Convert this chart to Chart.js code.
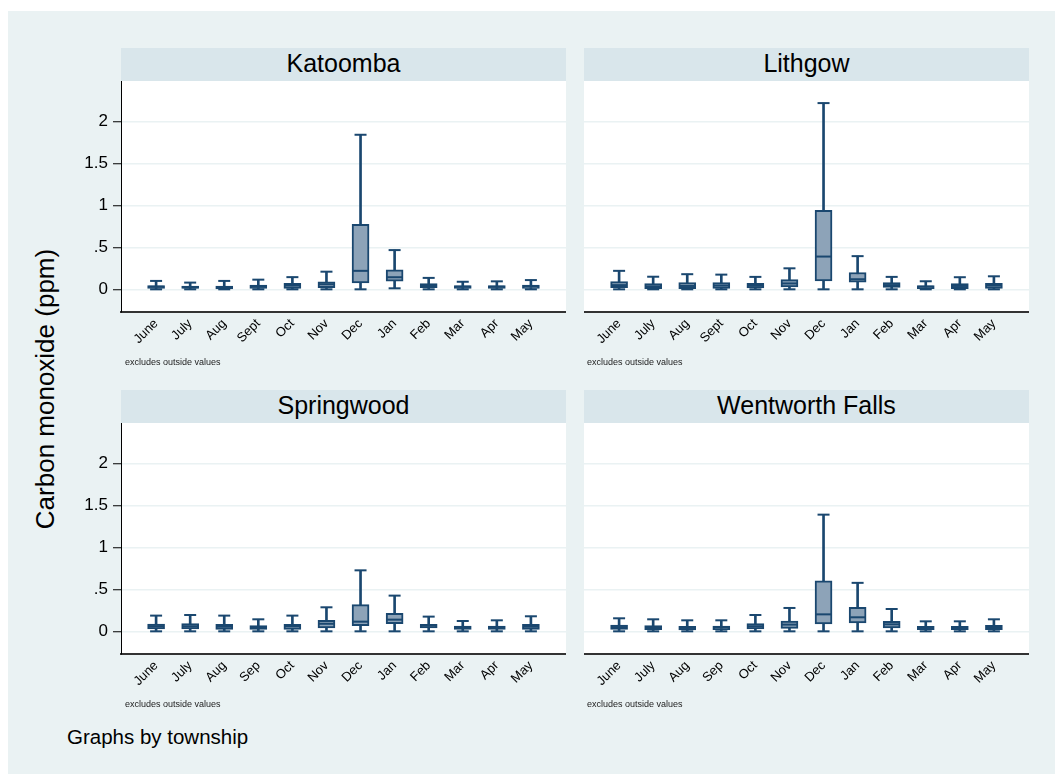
<!DOCTYPE html>
<html>
<head>
<meta charset="utf-8">
<script src="https://cdn.jsdelivr.net/npm/chart.js@4/dist/chart.umd.min.js"></script>
<style>
  html, body { margin:0; padding:0; background:#ffffff; }
  body { width:1055px; height:774px; position:relative; overflow:hidden; font-family:"Liberation Sans", Arial, sans-serif; }
  #bg { position:absolute; left:8px; top:11px; right:0; bottom:0; background:#EAF2F3; }
  .hdr { position:absolute; width:445px; height:33px; background:#D9E6EB; color:#000; font-size:25px; line-height:31px; text-align:center; }
  .wrap { position:absolute; }
  .note { position:absolute; font-size:9px; line-height:10px; color:#222; white-space:nowrap; }
  #ytitle { position:absolute; width:320px; height:26px; font-size:26px; line-height:26px; text-align:center; white-space:nowrap; transform:rotate(-90deg); }
  #foot { position:absolute; left:67px; top:726px; font-size:20.5px; line-height:21px; white-space:nowrap; }
</style>
</head>
<body>
<div id="bg"></div>

<div class="hdr" style="left:121px;top:48px;">Katoomba</div>
<div class="hdr" style="left:584px;top:48px;">Lithgow</div>
<div class="hdr" style="left:121px;top:390px;">Springwood</div>
<div class="hdr" style="left:584px;top:390px;">Wentworth Falls</div>

<div class="wrap" style="left:61px;top:81px;width:505px;height:281px;"><canvas id="c1"></canvas></div>
<div class="wrap" style="left:584px;top:81px;width:445px;height:281px;"><canvas id="c2"></canvas></div>
<div class="wrap" style="left:61px;top:423px;width:505px;height:281px;"><canvas id="c3"></canvas></div>
<div class="wrap" style="left:584px;top:423px;width:445px;height:281px;"><canvas id="c4"></canvas></div>

<div class="note" style="left:125px;top:357px;">excludes outside values</div>
<div class="note" style="left:587px;top:357px;">excludes outside values</div>
<div class="note" style="left:125px;top:699px;">excludes outside values</div>
<div class="note" style="left:587px;top:699px;">excludes outside values</div>

<div id="ytitle" style="left:-115px;top:376px;">Carbon monoxide (ppm)</div>
<div id="foot">Graphs by township</div>

<script>
// ---- Data ----
const monthsTop = ['June','July','Aug','Sept','Oct','Nov','Dec','Jan','Feb','Mar','Apr','May'];
const monthsBottom = ['June','July','Aug','Sep','Oct','Nov','Dec','Jan','Feb','Mar','Apr','May'];
const yTicks = [0, 0.5, 1, 1.5, 2];
const yTickLabels = ['0', '.5', '1', '1.5', '2'];

// Katoomba
const katLo  = [0, 0, 0, 0, 0, 0, 0, 0.012, 0, 0, 0, 0];
const katQ1  = [0.01, 0.01, 0.005, 0.01, 0.01, 0.02, 0.076, 0.096, 0.02, 0.012, 0.01, 0.01];
const katMed = [0.03, 0.025, 0.025, 0.03, 0.045, 0.06, 0.22, 0.144, 0.045, 0.03, 0.03, 0.035];
const katQ3  = [0.045, 0.04, 0.04, 0.05, 0.07, 0.09, 0.774, 0.231, 0.068, 0.044, 0.045, 0.05];
const katHi  = [0.10, 0.08, 0.10, 0.115, 0.145, 0.21, 1.84, 0.467, 0.136, 0.09, 0.095, 0.11];

// Lithgow
const litLo  = [0, 0, 0, 0, 0, 0, 0, 0, 0, 0, 0, 0];
const litQ1  = [0.02, 0.008, 0.008, 0.012, 0.016, 0.028, 0.10, 0.084, 0.024, 0.008, 0.008, 0.012];
const litMed = [0.05, 0.035, 0.04, 0.045, 0.045, 0.07, 0.39, 0.12, 0.05, 0.03, 0.04, 0.045];
const litQ3  = [0.092, 0.068, 0.08, 0.08, 0.072, 0.116, 0.941, 0.2, 0.08, 0.044, 0.068, 0.072];
const litHi  = [0.22, 0.15, 0.18, 0.175, 0.148, 0.25, 2.217, 0.395, 0.148, 0.096, 0.144, 0.155];

// Springwood
const spLo  = [0, 0, 0, 0, 0, 0, 0, 0, 0, 0, 0, 0];
const spQ1  = [0.028, 0.028, 0.024, 0.024, 0.024, 0.04, 0.067, 0.091, 0.04, 0.024, 0.024, 0.024];
const spMed = [0.06, 0.06, 0.055, 0.045, 0.06, 0.09, 0.115, 0.139, 0.065, 0.045, 0.045, 0.055];
const spQ3  = [0.087, 0.091, 0.083, 0.067, 0.083, 0.131, 0.317, 0.214, 0.083, 0.063, 0.063, 0.083];
const spHi  = [0.187, 0.194, 0.187, 0.143, 0.187, 0.286, 0.726, 0.425, 0.175, 0.123, 0.131, 0.179];

// Wentworth Falls
const wfLo  = [0, 0, 0, 0, 0, 0, 0, 0, 0, 0, 0, 0];
const wfQ1  = [0.024, 0.02, 0.016, 0.02, 0.028, 0.036, 0.088, 0.099, 0.04, 0.02, 0.02, 0.02];
const wfMed = [0.05, 0.045, 0.04, 0.045, 0.06, 0.08, 0.202, 0.167, 0.083, 0.04, 0.04, 0.045];
const wfQ3  = [0.075, 0.067, 0.06, 0.063, 0.091, 0.123, 0.6, 0.286, 0.119, 0.06, 0.06, 0.071];
const wfHi  = [0.155, 0.143, 0.131, 0.131, 0.194, 0.278, 1.389, 0.577, 0.266, 0.119, 0.119, 0.143];

// ---- Styling ----
const NAVY = '#1A476F';
const FILL = '#8DA3B8';
const GRID = '#EAF2F3';
const FONT = '"Liberation Sans", Arial, sans-serif';

function zeroPad(s) { s.paddingTop = 0; s.paddingBottom = 0; s.paddingLeft = 0; s.paddingRight = 0; }

function makeChart(id, labels, lo, q1, med, q3, hi, showY) {
  const idx = labels.map((_, i) => i);
  const datasets = [
    { // whiskers
      type: 'bar', order: 4, grouped: false,
      data: idx.map(i => ({ x: i, y: [lo[i], hi[i]] })),
      backgroundColor: NAVY, borderWidth: 0, barThickness: 2
    },
    { // boxes
      type: 'bar', order: 3, grouped: false,
      data: idx.map(i => ({ x: i, y: [q1[i], q3[i]] })),
      backgroundColor: FILL, borderColor: NAVY, borderWidth: 2, borderSkipped: false, barThickness: 17
    },
    { // whisker caps
      type: 'scatter', order: 2,
      data: idx.flatMap(i => [{ x: i, y: lo[i] }, { x: i, y: hi[i] }]),
      pointStyle: 'line', pointRadius: 6, pointBorderWidth: 2, borderColor: NAVY, backgroundColor: NAVY, showLine: false
    },
    { // medians
      type: 'scatter', order: 1,
      data: idx.map(i => ({ x: i, y: med[i] })),
      pointStyle: 'line', pointRadius: 7.5, pointBorderWidth: 2, borderColor: NAVY, backgroundColor: NAVY, showLine: false
    }
  ];
  return new Chart(document.getElementById(id), {
    type: 'bar',
    data: { datasets },
    options: {
      responsive: true, maintainAspectRatio: false, animation: false,
      layout: { padding: 0, autoPadding: false },
      plugins: { legend: { display: false }, tooltip: { enabled: false }, title: { display: false } },
      events: [],
      scales: {
        x: {
          type: 'linear', offset: false, min: -1.03, max: 12.03,
          grid: { display: false, drawTicks: false },
          border: { display: true, color: '#333333', width: 2 },
          afterBuildTicks: s => { s.ticks = idx.map(v => ({ value: v })); },
          afterFit: s => { s.height = 50; zeroPad(s); },
          ticks: {
            autoSkip: false, minRotation: 45, maxRotation: 45, padding: 4,
            color: '#000', font: { family: FONT, size: 13 },
            callback: v => labels[v]
          }
        },
        y: {
          min: -0.27, max: 2.48,
          grid: { color: GRID, lineWidth: 1.5, drawTicks: showY, tickLength: 8, tickColor: '#000', tickWidth: 1 },
          border: { display: showY, color: '#000', width: 1 },
          afterBuildTicks: s => { s.ticks = yTicks.map(v => ({ value: v })); },
          afterFit: s => { s.width = showY ? 60 : 0; zeroPad(s); },
          ticks: {
            display: showY, padding: 5, color: '#000', font: { family: FONT, size: 17 },
            callback: v => yTickLabels[yTicks.indexOf(v)]
          }
        }
      }
    },
    plugins: [{
      id: 'whiteArea',
      beforeDraw(chart) {
        const { ctx, chartArea: a } = chart;
        ctx.save(); ctx.fillStyle = '#ffffff';
        ctx.fillRect(a.left, a.top, a.right - a.left, a.bottom - a.top);
        ctx.restore();
      }
    }]
  });
}

makeChart('c1', monthsTop, katLo, katQ1, katMed, katQ3, katHi, true);
makeChart('c2', monthsTop, litLo, litQ1, litMed, litQ3, litHi, false);
makeChart('c3', monthsBottom, spLo, spQ1, spMed, spQ3, spHi, true);
makeChart('c4', monthsBottom, wfLo, wfQ1, wfMed, wfQ3, wfHi, false);
</script>
</body>
</html>
